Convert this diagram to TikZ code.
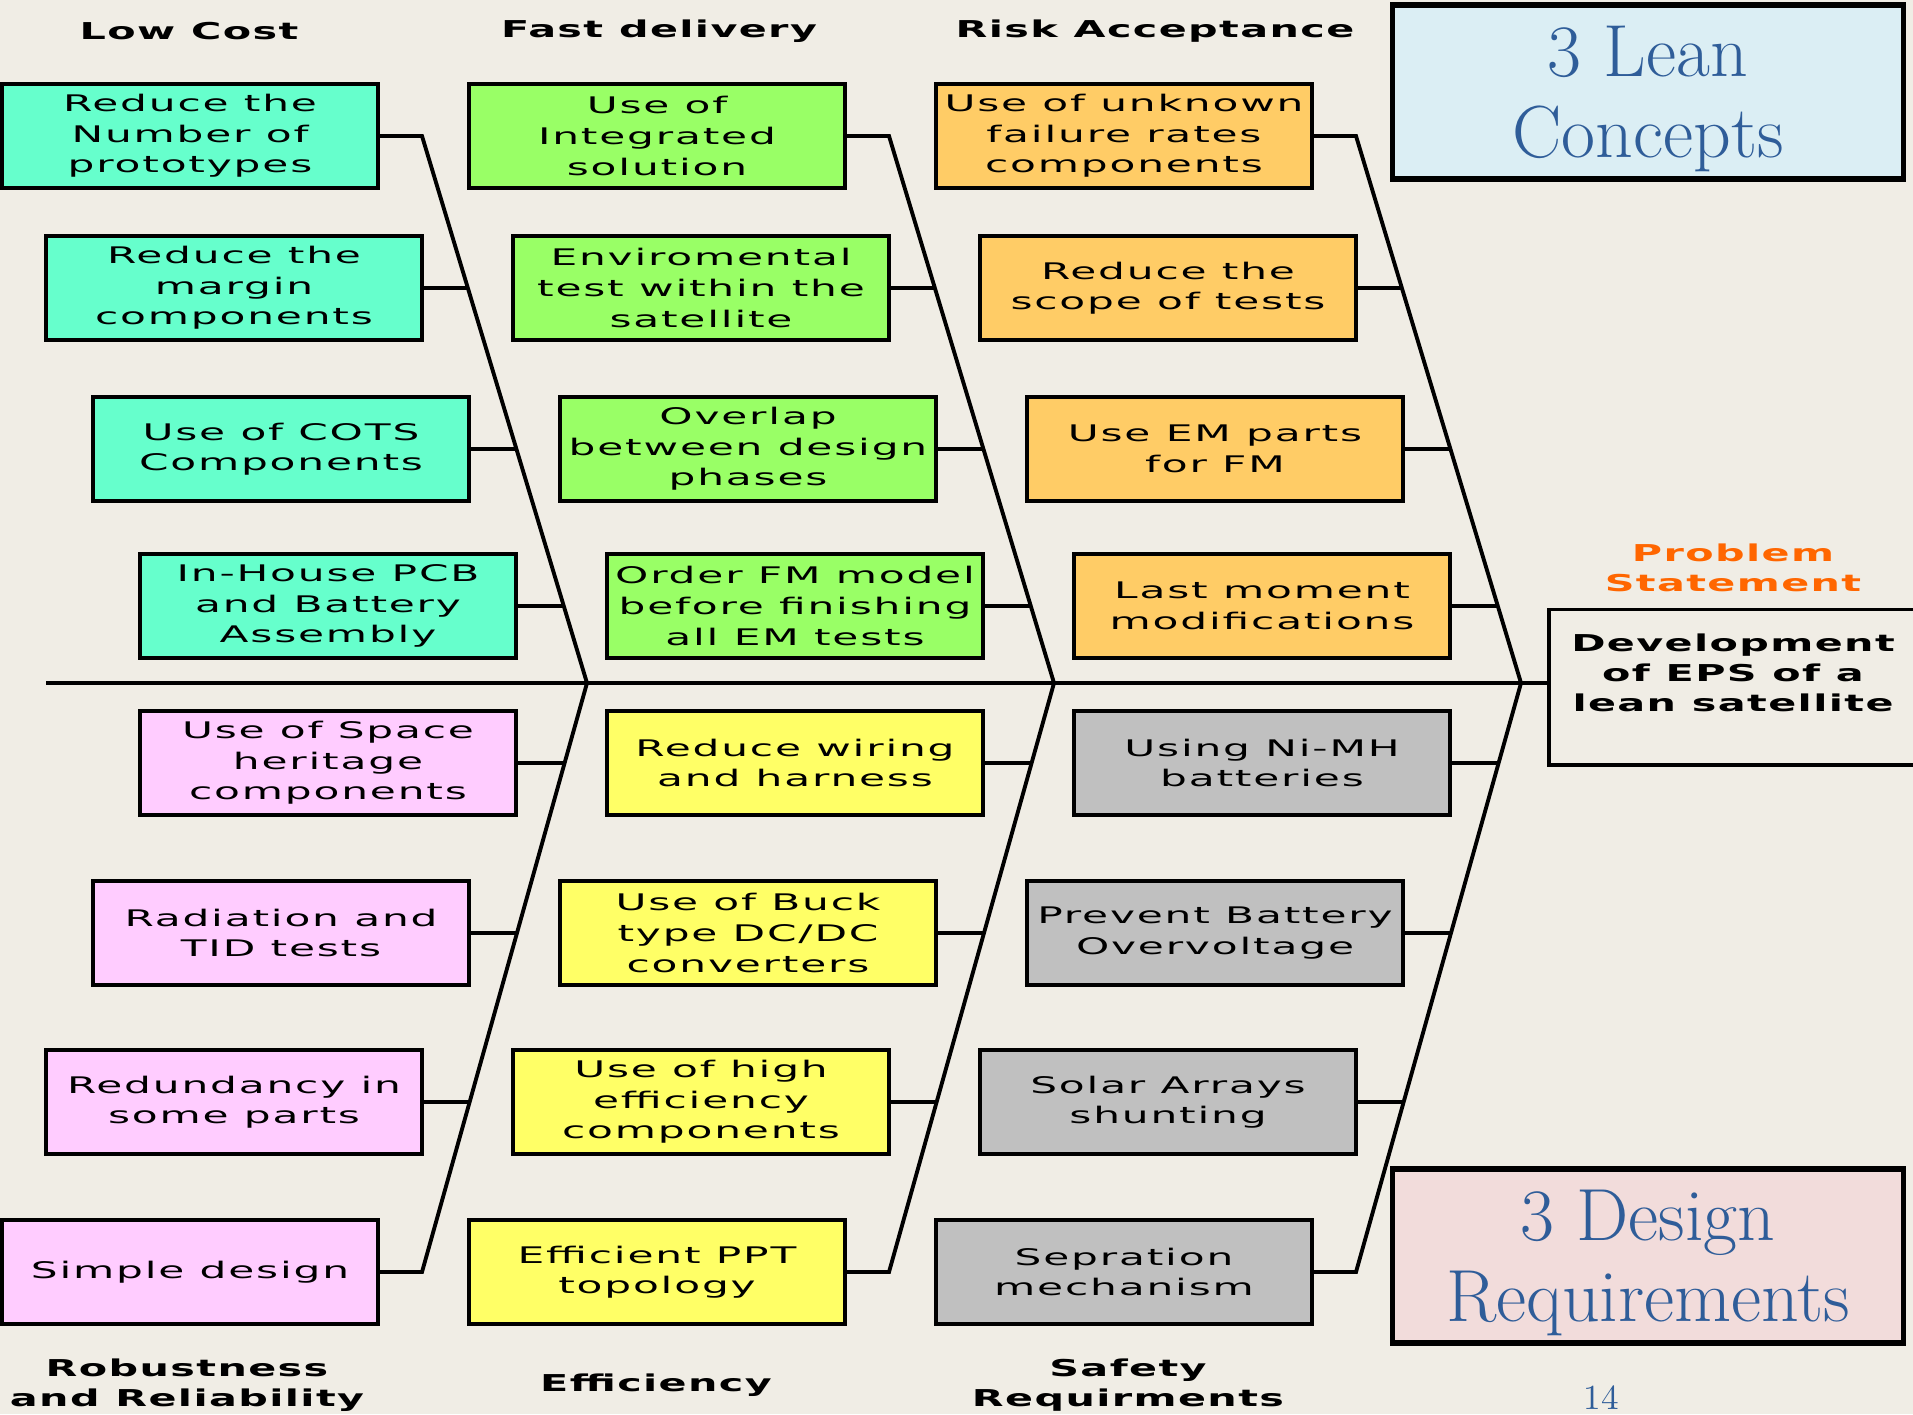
\documentclass[tikz,border=0pt]{standalone}
\usepackage{fontspec}
\usepackage{tikz}
\newfontfamily\boxfont[FakeStretch=1.85,LetterSpace=8]{DejaVu Sans}
\newfontfamily\headfont[FakeStretch=1.78,LetterSpace=6]{DejaVu Sans}

\definecolor{bgcol}{RGB}{240,237,229}
\definecolor{costcol}{RGB}{102,255,204}
\definecolor{fastcol}{RGB}{153,255,102}
\definecolor{riskcol}{RGB}{255,204,102}
\definecolor{robustcol}{RGB}{255,204,255}
\definecolor{efficol}{RGB}{255,255,102}
\definecolor{safecol}{RGB}{192,192,192}
\definecolor{leanfill}{RGB}{219,238,244}
\definecolor{reqfill}{RGB}{242,220,219}
\definecolor{titleblue}{RGB}{47,93,153}
\definecolor{probcol}{RGB}{255,102,0}

\begin{document}
\begin{tikzpicture}[x=0.01cm, y=-0.01cm,
      every node/.append style={align=center},
      box/.style={draw=black, line width=1.1pt, minimum width=3.76cm, minimum height=1.04cm,
        inner sep=0pt, font=\boxfont\fontsize{6.5}{8.7}\selectfont},
      lowcost/.style={box, fill=costcol},
      fastdel/.style={box, fill=fastcol},
      riskacc/.style={box, fill=riskcol},
      robust/.style={box, fill=robustcol},
      effic/.style={box, fill=efficol},
      safe/.style={box, fill=safecol},
      head/.style={font=\headfont\bfseries\fontsize{6.6}{8.6}\selectfont},
      spine/.style={line width=1.1pt, draw=black},
      bigbox/.style={draw=black, line width=1.6pt, minimum width=5.11cm, minimum height=1.74cm,
        text depth=0pt, text=titleblue, font=\fontsize{21}{23}\selectfont}]
  \useasboundingbox (0,0) rectangle (1913,1414);
  \fill[bgcol] (0,0) rectangle (1913,1414);
  \clip (0,0) rectangle (1913,1414);

  % column headers
  \node (h1) [head] at (189,31) {Low Cost};
  \node (h2) [head] at (659,31) {Fast delivery};
  \node (h3) [head] at (1155,31) {Risk Acceptance};
  \node (h4) [head] at (187,1385) {Robustness\\and Reliability};
  \node (h5) [head] at (656,1385) {Efficiency};
  \node (h6) [head] at (1128,1385) {Safety\\Requirments};

  % low cost / robustness
  \node (c1_1) [lowcost] at (190,136) {Reduce the\\Number of\\prototypes};
  \node (c1_2) [lowcost] at (234,288) {Reduce the\\margin\\components};
  \node (c1_3) [lowcost] at (281,449) {Use of COTS\\Components};
  \node (c1_4) [lowcost] at (328,606) {In-House PCB\\and Battery\\Assembly};
  \node (c1_5) [robust] at (328,763) {Use of Space\\heritage\\components};
  \node (c1_6) [robust] at (281,933) {Radiation and\\TID tests};
  \node (c1_7) [robust] at (234,1102) {Redundancy in\\some parts};
  \node (c1_8) [robust] at (190,1272) {Simple design};

  % fast delivery / efficiency
  \node (c2_1) [fastdel] at (657,136) {Use of\\Integrated\\solution};
  \node (c2_2) [fastdel] at (701,288) {Enviromental\\test within the\\satellite};
  \node (c2_3) [fastdel] at (748,449) {Overlap\\between design\\phases};
  \node (c2_4) [fastdel] at (795,606) {Order FM model\\before finishing\\all EM tests};
  \node (c2_5) [effic] at (795,763) {Reduce wiring\\and harness};
  \node (c2_6) [effic] at (748,933) {Use of Buck\\type DC/DC\\converters};
  \node (c2_7) [effic] at (701,1102) {Use of high\\efficiency\\components};
  \node (c2_8) [effic] at (657,1272) {Efficient PPT\\topology};

  % risk acceptance / safety
  \node (c3_1) [riskacc] at (1124,136) {Use of unknown\\failure rates\\components};
  \node (c3_2) [riskacc] at (1168,288) {Reduce the\\scope of tests};
  \node (c3_3) [riskacc] at (1215,449) {Use EM parts\\for FM};
  \node (c3_4) [riskacc] at (1262,606) {Last moment\\modifications};
  \node (c3_5) [safe] at (1262,763) {Using Ni-MH\\batteries};
  \node (c3_6) [safe] at (1215,933) {Prevent Battery\\Overvoltage};
  \node (c3_7) [safe] at (1168,1102) {Solar Arrays\\shunting};
  \node (c3_8) [safe] at (1124,1272) {Sepration\\mechanism};

  % problem statement
  \node (probhead) [head, text=probcol] at (1733,568) {Problem\\Statement};
  \node (prob) [draw=black, line width=1.1pt, minimum width=3.68cm, minimum height=1.55cm] at (1733,687) {};
  \node (probtxt) [head] at (1733,673) {Development\\of EPS of a\\lean satellite};

  \node (lean) [bigbox, fill=leanfill] at (1648,92) {3 Lean\\Concepts};
  \node (req) [bigbox, fill=reqfill] at (1648,1256) {3 Design\\Requirements};
  \node (page) [text=titleblue, font=\fontsize{10}{12}\selectfont, anchor=south, inner sep=1pt] at (1601,1414) {14};

  % bones
  \coordinate (tail) at (46,683);
  \draw[spine, line width=0.9pt] (tail) -- (tail -| prob.west);
  \foreach \k/\o in {1/0,2/467,3/934}{
    \draw[spine] (c\k_1.east) -- (422+\o,136)
      -- coordinate[pos=.2779] (s\k_2) coordinate[pos=.5722] (s\k_3) coordinate[pos=.8592] (s\k_4) (587+\o,683)
      -- coordinate[pos=.1358] (s\k_5) coordinate[pos=.4244] (s\k_6) coordinate[pos=.7114] (s\k_7) (422+\o,1272)
      -- (c\k_8.east);
    \foreach \j in {2,...,7}
      \draw[spine] (c\k_\j.east) -- (c\k_\j.east -| s\k_\j);
  }
\end{tikzpicture}
\end{document}
